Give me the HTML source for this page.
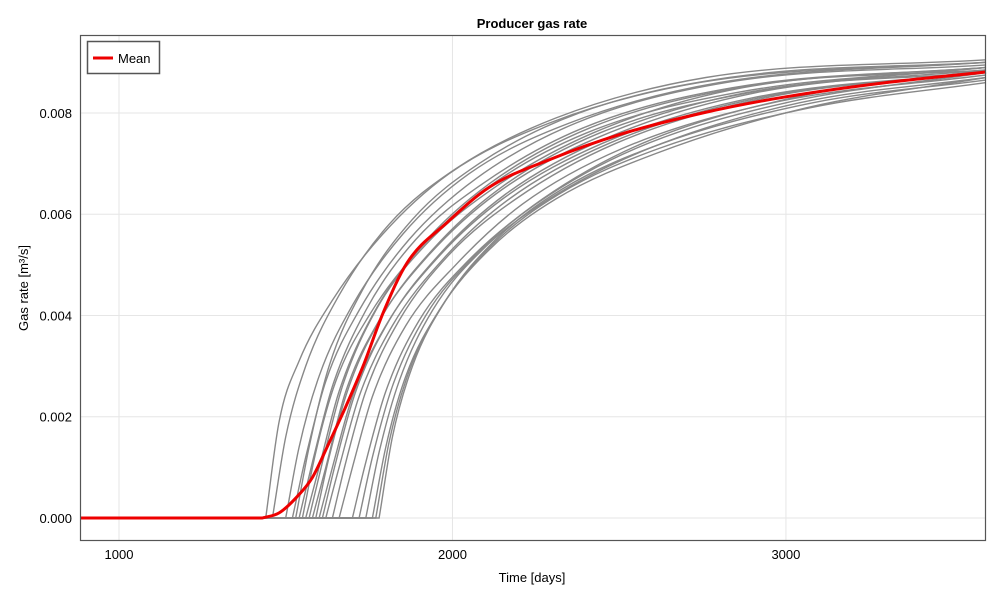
<!DOCTYPE html>
<html><head><meta charset="utf-8"><style>
body{margin:0;background:#fff;font-family:"Liberation Sans",sans-serif}
svg text{font-family:"Liberation Sans",sans-serif}
</style></head><body>
<svg id="chart" width="1000" height="600">
<text x="532" y="28" text-anchor="middle" font-size="13" font-weight="bold">Producer gas rate</text>
<g id="grid"></g><g id="series"></g>
<rect x="80.5" y="35.5" width="905" height="505" fill="none" stroke="#555" stroke-width="1.2"/>
<g id="ticks"></g>
<text x="532" y="582" text-anchor="middle" font-size="13">Time [days]</text>
<text transform="translate(28,288) rotate(-90)" text-anchor="middle" font-size="13">Gas rate [m³/s]</text>
<g>
<rect x="87.5" y="41.5" width="72" height="32" fill="#fff" stroke="#555" stroke-width="1.5"/>
<line x1="93" y1="58" x2="113" y2="58" stroke="#e00" stroke-width="3"/>
<text x="118" y="63" font-size="13">Mean</text>
</g>
</svg>
<script>
const xTicks=[1000,2000,3000];
const yTicks=[0,0.002,0.004,0.006,0.008];
const yTickLabels=["0.000","0.002","0.004","0.006","0.008"];
const onsets=[1440,1460,1500,1520,1540,1550,1560,1570,1580,1590,1600,1610,1620,1640,1660,1700,1720,1740,1760,1770,1780,1530];
const offsets=[0,40,100,200,350,550,850,1300];
const curveValues=[
[0,.0019,.0031,.0043,.0056,.0068,.0078,.0086,.0090],
[0,.0016,.0030,.0044,.0058,.0069,.0079,.0087,.00905],
[0,.0014,.0028,.0042,.0056,.0068,.0078,.0086,.0090],
[0,.0012,.0027,.0041,.0055,.0067,.0078,.0086,.00895],
[0,.0011,.0026,.0041,.0055,.0066,.0077,.0085,.0089],
[0,.0013,.0027,.0040,.0053,.0065,.0076,.0084,.0089],
[0,.0010,.0025,.0040,.0054,.0066,.0077,.0085,.0089],
[0,.0011,.0026,.0041,.0054,.0065,.0076,.0085,.00885],
[0,.0010,.0025,.0039,.0052,.0064,.0075,.0084,.0088],
[0,.0012,.0026,.0040,.0053,.0065,.0076,.0084,.0089],
[0,.0010,.0024,.0038,.0051,.0063,.0074,.0083,.0088],
[0,.0011,.0025,.0039,.0052,.0064,.0075,.0084,.00885],
[0,.0010,.0024,.0038,.0051,.0063,.0074,.0083,.0088],
[0,.0011,.0025,.0039,.0052,.0063,.0074,.0083,.0088],
[0,.0010,.0024,.0038,.0050,.0062,.0073,.0082,.00875],
[0,.0011,.0025,.0039,.0051,.0062,.0073,.0082,.0088],
[0,.0012,.0026,.0040,.0052,.0063,.0074,.0083,.00885],
[0,.0013,.0027,.0041,.0053,.0063,.0073,.0082,.0087],
[0,.0014,.0028,.0041,.0053,.0063,.0072,.0081,.0087],
[0,.0015,.0029,.0042,.0054,.0064,.0073,.0081,.0086],
[0,.0016,.0030,.0043,.0055,.0065,.0074,.0082,.00865],
[0,.0014,.0030,.0045,.0059,.0070,.0080,.0087,.0090]];
const meanTimes=[1430,1480,1534,1580,1624,1680,1732,1792,1864,1983,2112,2300,2500,2750,3000,3300,3600];
const meanValues=[0,0.0001,0.00042,0.0008,0.0014,0.0022,0.0030,0.00405,0.00504,0.00583,0.00654,0.0071,0.00757,0.0080,0.00832,0.0086,0.00881];
const X0=883,X1=3597,Y0=-0.000435,Y1=0.00954;
function sx(t){return 80+(t-X0)/(X1-X0)*905;}
function sy(v){return 540-(v-Y0)/(Y1-Y0)*505;}
const NS="http://www.w3.org/2000/svg";
function mk(tag,attrs,parent){const e=document.createElementNS(NS,tag);for(const k in attrs)e.setAttribute(k,attrs[k]);parent.appendChild(e);return e;}
// monotone cubic path (Fritsch-Carlson) in screen space, preceded by flat zero line
function smoothPath(pts){
 const P=pts.map(q=>[sx(q[0]),sy(q[1])]);const n=P.length;
 const d=[],m=[];
 for(let i=0;i<n-1;i++)d.push((P[i+1][1]-P[i][1])/(P[i+1][0]-P[i][0]));
 m[0]=d[0];m[n-1]=d[n-2];
 for(let i=1;i<n-1;i++){m[i]=(d[i-1]*d[i]<=0)?0:(d[i-1]+d[i])/2;}
 for(let i=0;i<n-1;i++){if(d[i]===0){m[i]=0;m[i+1]=0;continue;}const a=m[i]/d[i],b=m[i+1]/d[i],s=a*a+b*b;if(s>9){const t=3/Math.sqrt(s);m[i]=t*a*d[i];m[i+1]=t*b*d[i];}}
 let s='M'+sx(X0).toFixed(1)+','+sy(0).toFixed(1)+' L'+P[0][0].toFixed(1)+','+P[0][1].toFixed(1);
 for(let i=0;i<n-1;i++){const h=(P[i+1][0]-P[i][0])/3;
  s+=' C'+(P[i][0]+h).toFixed(1)+','+(P[i][1]+m[i]*h).toFixed(1)+' '+(P[i+1][0]-h).toFixed(1)+','+(P[i+1][1]-m[i+1]*h).toFixed(1)+' '+P[i+1][0].toFixed(1)+','+P[i+1][1].toFixed(1);}
 return s;}
const grid=document.getElementById('grid'),ticks=document.getElementById('ticks'),series=document.getElementById('series');
xTicks.forEach(t=>{const x=sx(t);
 const l=mk('line',{x1:x,x2:x,y1:35,y2:540,stroke:'#e6e6e6'},grid);
 
 
 const tx=mk('text',{x:x,y:559,'text-anchor':'middle','font-size':13},ticks);tx.textContent=t;
 
 });
yTicks.forEach((v,i)=>{const y=sy(v);
 const l=mk('line',{x1:80,x2:985,y1:y,y2:y,stroke:'#e6e6e6'},grid);
 
 
 const tx=mk('text',{x:72,y:y+5,'text-anchor':'end','font-size':13},ticks);tx.textContent=yTickLabels[i];
 
 });
onsets.forEach((t0,i)=>{const pts=[];offsets.forEach((o,j)=>pts.push([t0+o,curveValues[i][j]]));pts.push([3600,curveValues[i][8]]);
 const p=mk('path',{d:smoothPath(pts),fill:'none',stroke:'#888','stroke-width':1.4},series);
 
 });
const m=mk('path',{d:smoothPath(meanTimes.map((t,i)=>[t,meanValues[i]])),fill:'none',stroke:'#e00','stroke-width':3,'stroke-linejoin':'round'},series);


</script>
</body></html>
